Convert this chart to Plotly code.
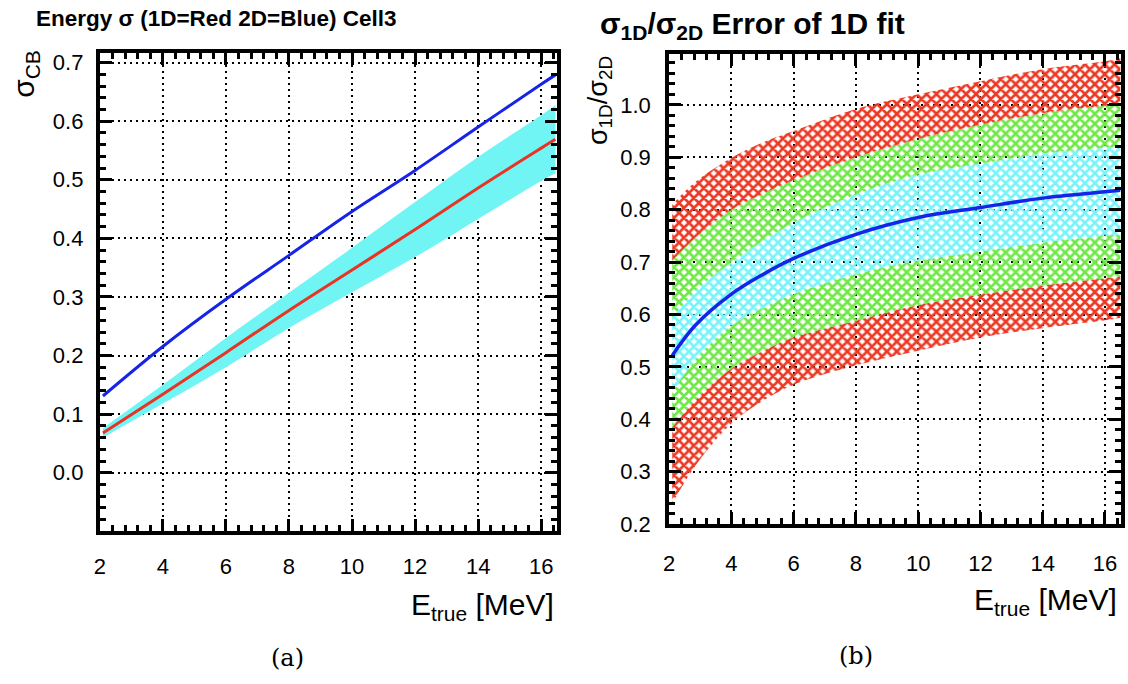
import plotly.graph_objects as go

W, H = 1128, 684

# ---------------- Panel (a): energy resolution ----------------
energy_a = [2.1, 4, 6, 8, 10, 12, 14, 16, 16.45]
sigma_2d = [0.131, 0.2155, 0.296, 0.371, 0.446, 0.516, 0.590, 0.663, 0.679]
sigma_1d = [0.068, 0.134, 0.205, 0.277, 0.346, 0.415, 0.486, 0.554, 0.569]
sigma_1d_err = [0.008, 0.016, 0.025, 0.030, 0.038, 0.047, 0.053, 0.056, 0.058]

# ---------------- Panel (b): ratio sigma1D/sigma2D ----------------
energy_b = [2.1, 2.85, 4, 5, 6, 8, 10, 12, 14, 16, 16.5]
ratio = [0.522, 0.580, 0.639, 0.676, 0.707, 0.753, 0.785, 0.804, 0.822, 0.834, 0.837]
red_hi = [0.810, 0.853, 0.899, 0.928, 0.950, 0.992, 1.020, 1.045, 1.068, 1.083, 1.089]
green_hi = [0.703, 0.747, 0.800, 0.830, 0.856, 0.900, 0.935, 0.962, 0.984, 0.998, 1.000]
cyan_hi = [0.594, 0.646, 0.699, 0.740, 0.775, 0.829, 0.867, 0.888, 0.907, 0.918, 0.921]
cyan_lo = [0.452, 0.514, 0.579, 0.612, 0.639, 0.677, 0.703, 0.720, 0.737, 0.750, 0.753]
green_lo = [0.385, 0.437, 0.497, 0.530, 0.556, 0.588, 0.618, 0.638, 0.655, 0.669, 0.673]
red_lo = [0.240, 0.312, 0.392, 0.435, 0.466, 0.503, 0.531, 0.556, 0.574, 0.589, 0.594]

x_ticks = [2, 4, 6, 8, 10, 12, 14, 16]
ya_ticks = [0.0, 0.1, 0.2, 0.3, 0.4, 0.5, 0.6, 0.7]
yb_ticks = [0.2, 0.3, 0.4, 0.5, 0.6, 0.7, 0.8, 0.9, 1.0]

RED = "rgb(232,52,36)"
BLUE = "rgb(22,36,232)"
CYAN_SOLID = "rgb(112,244,244)"
PAT_RED = "rgb(236,58,38)"
PAT_GREEN = "rgb(112,232,72)"
PAT_CYAN = "rgb(118,244,250)"
FONT = "Liberation Sans"


def fx(px):
    return px / W


def fy(py):
    return 1 - py / H


fig = go.Figure()

# --- panel (a) ---
lower_a = [s - e for s, e in zip(sigma_1d, sigma_1d_err)]
upper_a = [s + e for s, e in zip(sigma_1d, sigma_1d_err)]
fig.add_trace(go.Scatter(x=energy_a, y=lower_a, mode="lines", line=dict(width=0, shape="spline"),
                         xaxis="x", yaxis="y", hoverinfo="skip"))
fig.add_trace(go.Scatter(x=energy_a, y=upper_a, mode="lines", line=dict(width=0, shape="spline"),
                         fill="tonexty", fillcolor=CYAN_SOLID, xaxis="x", yaxis="y", hoverinfo="skip"))
fig.add_trace(go.Scatter(x=energy_a, y=sigma_1d, mode="lines", line=dict(color=RED, width=3, shape="spline"),
                         xaxis="x", yaxis="y"))
fig.add_trace(go.Scatter(x=energy_a, y=sigma_2d, mode="lines", line=dict(color=BLUE, width=3, shape="spline"),
                         xaxis="x", yaxis="y"))

# --- panel (b) ---
def pattern(col):
    return dict(shape="x", fgcolor=col, bgcolor="rgba(0,0,0,0)", size=7, solidity=0.62, fgopacity=1)


band_seq = [(red_lo, None), (green_lo, PAT_RED), (cyan_lo, PAT_GREEN), (cyan_hi, PAT_CYAN),
            (green_hi, PAT_GREEN), (red_hi, PAT_RED)]
for yv, col in band_seq:
    kw = {}
    if col is not None:
        kw = dict(fill="tonexty", fillcolor="rgba(0,0,0,0)", fillpattern=pattern(col))
    fig.add_trace(go.Scatter(x=energy_b, y=yv, mode="lines", line=dict(width=0, shape="spline"),
                             xaxis="x2", yaxis="y2", hoverinfo="skip", **kw))
fig.add_trace(go.Scatter(x=energy_b, y=ratio, mode="lines", line=dict(color=BLUE, width=3.5, shape="spline"),
                         xaxis="x2", yaxis="y2"))

axis_common = dict(
    showline=True, linewidth=4, linecolor="black", mirror="allticks",
    ticks="inside", ticklen=12, tickwidth=3, tickcolor="black",
    showgrid=True, gridcolor="black", gridwidth=1.6, griddash="2px,4px",
    zeroline=False, layer="above traces",
    tickfont=dict(family=FONT, size=22, color="black"),
)

fig.update_layout(
    width=W, height=H, margin=dict(l=0, r=0, t=0, b=0),
    paper_bgcolor="white", plot_bgcolor="white", showlegend=False,
    xaxis=dict(domain=[fx(94.3), fx(553.9)], range=[2, 16.5], anchor="y",
               tickmode="array", tickvals=x_ticks, ticktext=[str(v) for v in x_ticks],
               ticklabelstandoff=12,
               minor=dict(tickmode="linear", tick0=2, dtick=0.4, ticks="inside", ticklen=6,
                          tickwidth=3, tickcolor="black", showgrid=False),
               **axis_common),
    yaxis=dict(domain=[fy(541), fy(51.4)], range=[-0.1, 0.716], anchor="x",
               tickmode="array", tickvals=ya_ticks, ticktext=[f"{v:.1f}" for v in ya_ticks],
               ticklabelstandoff=8,
               minor=dict(tickmode="linear", tick0=0, dtick=0.02, ticks="inside", ticklen=6,
                          tickwidth=3, tickcolor="black", showgrid=False),
               **axis_common),
    xaxis2=dict(domain=[fx(666.7), fx(1120.5)], range=[2, 16.5], anchor="y2",
                tickmode="array", tickvals=x_ticks, ticktext=[str(v) for v in x_ticks],
                ticklabelstandoff=16,
                minor=dict(tickmode="linear", tick0=2, dtick=0.4, ticks="inside", ticklen=6,
                           tickwidth=3, tickcolor="black", showgrid=False),
                **axis_common),
    yaxis2=dict(domain=[fy(533.7), fy(52.7)], range=[0.2, 1.096], anchor="x2",
                tickmode="array", tickvals=yb_ticks, ticktext=[f"{v:.1f}" for v in yb_ticks],
                ticklabelstandoff=10,
                minor=dict(tickmode="linear", tick0=0.2, dtick=0.02, ticks="inside", ticklen=6,
                           tickwidth=3, tickcolor="black", showgrid=False),
                **axis_common),
)

ann = []
# titles
ann.append(dict(text="Energy σ (1D=Red 2D=Blue) Cell3", x=fx(28), y=fy(16), xanchor="left", yanchor="middle",
                font=dict(family=FONT, size=22.5, color="black", weight="bold")))
ann.append(dict(text="σ<sub>1D</sub>/σ<sub>2D</sub> Error of 1D fit", x=fx(595), y=fy(2), xanchor="left",
                yanchor="top", font=dict(family=FONT, size=30, color="black", weight="bold")))
# y titles
ann.append(dict(text="σ<sub>CB</sub>", x=fx(20), y=fy(46), xanchor="center", yanchor="top", textangle=-90,
                font=dict(family=FONT, size=30, color="black")))
ann.append(dict(text="σ<sub>1D</sub>/σ<sub>2D</sub>", x=fx(597), y=fy(52), xanchor="center", yanchor="top",
                textangle=-90, font=dict(family=FONT, size=27, color="black")))
# x titles
ann.append(dict(text="E<sub>true</sub> [MeV]", x=fx(553), y=fy(597), xanchor="right", yanchor="top",
                font=dict(family=FONT, size=30, color="black")))
ann.append(dict(text="E<sub>true</sub> [MeV]", x=fx(1119), y=fy(592), xanchor="right", yanchor="top",
                font=dict(family=FONT, size=30, color="black")))
# captions
ann.append(dict(text="(a)", x=fx(283), y=fy(671), xanchor="center", yanchor="middle",
                font=dict(family="DejaVu Serif", size=24, color="black")))
ann.append(dict(text="(b)", x=fx(855), y=fy(669), xanchor="center", yanchor="middle",
                font=dict(family="DejaVu Serif", size=24, color="black")))
for a in ann:
    a.update(xref="paper", yref="paper", showarrow=False)
fig.update_layout(annotations=ann)

fig.write_html(
    "out.html",
    config={"displayModeBar": False},
    post_script="document.body.style.margin='0';document.body.style.overflow='hidden';"
                "document.documentElement.style.overflow='hidden';",
)
